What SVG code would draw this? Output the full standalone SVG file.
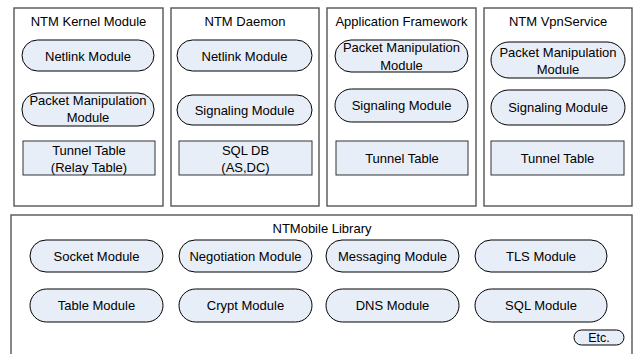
<svg xmlns="http://www.w3.org/2000/svg" width="634" height="354" viewBox="0 0 634 354">
<style>
text{font-family:"Liberation Sans",Arial,sans-serif;font-size:13px;fill:#000;text-anchor:middle}
.box{fill:#fff;stroke:#555;stroke-width:1.4}
.pill{fill:#E8EEF8;stroke:#000;stroke-width:1}
.tbl{fill:#E8EEF8;stroke:#333;stroke-width:1}
.sm{font-size:12.5px}
</style>
<rect width="634" height="354" fill="#fff"/>
<g id="kernel">
<rect class="box" x="14" y="8" width="149" height="198"/>
<text x="88.5" y="26">NTM Kernel Module</text>
<rect class="pill" x="22" y="40" width="132" height="31" rx="15.5"/>
<text x="88" y="60.5">Netlink Module</text>
<rect class="pill" x="22" y="93" width="132" height="33" rx="16"/>
<text x="88" y="105">Packet Manipulation</text>
<text x="88" y="122">Module</text>
<rect class="tbl" x="23" y="141" width="132" height="34"/>
<text x="89" y="155">Tunnel Table</text>
<text x="89" y="172">(Relay Table)</text>
</g>
<g id="daemon">
<rect class="box" x="171" y="8" width="148" height="198"/>
<text x="245" y="26">NTM Daemon</text>
<rect class="pill" x="177" y="40" width="135" height="31" rx="15.5"/>
<text x="244.5" y="60.5">Netlink Module</text>
<rect class="pill" x="177" y="95" width="135" height="30" rx="15"/>
<text x="244.5" y="114.5">Signaling Module</text>
<rect class="tbl" x="179" y="141" width="133" height="34"/>
<text x="245.5" y="155">SQL DB</text>
<text x="245.5" y="172">(AS,DC)</text>
</g>
<g id="appfw">
<rect class="box" x="327" y="8" width="149" height="198"/>
<text x="401.5" y="26">Application Framework</text>
<rect class="pill" x="335" y="40" width="133" height="32" rx="16"/>
<text x="401.5" y="52">Packet Manipulation</text>
<text x="401.5" y="70">Module</text>
<rect class="pill" x="335" y="89" width="133" height="33" rx="16.5"/>
<text x="401.5" y="110">Signaling Module</text>
<rect class="tbl" x="336" y="141" width="132" height="34"/>
<text x="402" y="162.5">Tunnel Table</text>
</g>
<g id="vpn">
<rect class="box" x="484" y="8" width="148" height="198"/>
<text x="558" y="26">NTM VpnService</text>
<rect class="pill" x="491" y="42" width="134" height="36" rx="18"/>
<text x="558" y="57">Packet Manipulation</text>
<text x="558" y="74">Module</text>
<rect class="pill" x="491" y="90" width="134" height="35" rx="17.5"/>
<text x="558" y="112">Signaling Module</text>
<rect class="tbl" x="491" y="141" width="133" height="34"/>
<text x="557.5" y="162.5">Tunnel Table</text>
</g>
<g id="library">
<rect class="box" x="11" y="215" width="621" height="150"/>
<text x="322" y="233">NTMobile Library</text>
</g>
<g id="socket"><rect class="pill" x="30" y="240" width="133" height="32" rx="16"/><text x="96.5" y="260.5">Socket Module</text></g>
<g id="negotiation"><rect class="pill" x="179" y="240" width="133" height="32" rx="16"/><text x="245.5" y="260.5">Negotiation Module</text></g>
<g id="messaging"><rect class="pill" x="326" y="240" width="133" height="32" rx="16"/><text x="392.5" y="260.5">Messaging Module</text></g>
<g id="tls"><rect class="pill" x="475" y="240" width="132" height="32" rx="16"/><text x="541" y="260.5">TLS Module</text></g>
<g id="table"><rect class="pill" x="30" y="289" width="133" height="33" rx="16.5"/><text x="96.5" y="310">Table Module</text></g>
<g id="crypt"><rect class="pill" x="179" y="289" width="133" height="33" rx="16.5"/><text x="245.5" y="310">Crypt Module</text></g>
<g id="dns"><rect class="pill" x="326" y="289" width="133" height="33" rx="16.5"/><text x="392.5" y="310">DNS Module</text></g>
<g id="sql"><rect class="pill" x="475" y="289" width="132" height="33" rx="16.5"/><text x="541" y="310">SQL Module</text></g>
<g id="etc"><rect class="pill" x="574" y="330" width="50" height="15" rx="7.5"/><text class="sm" x="599" y="342">Etc.</text></g>
<g id="connectors"></g>
</svg>
